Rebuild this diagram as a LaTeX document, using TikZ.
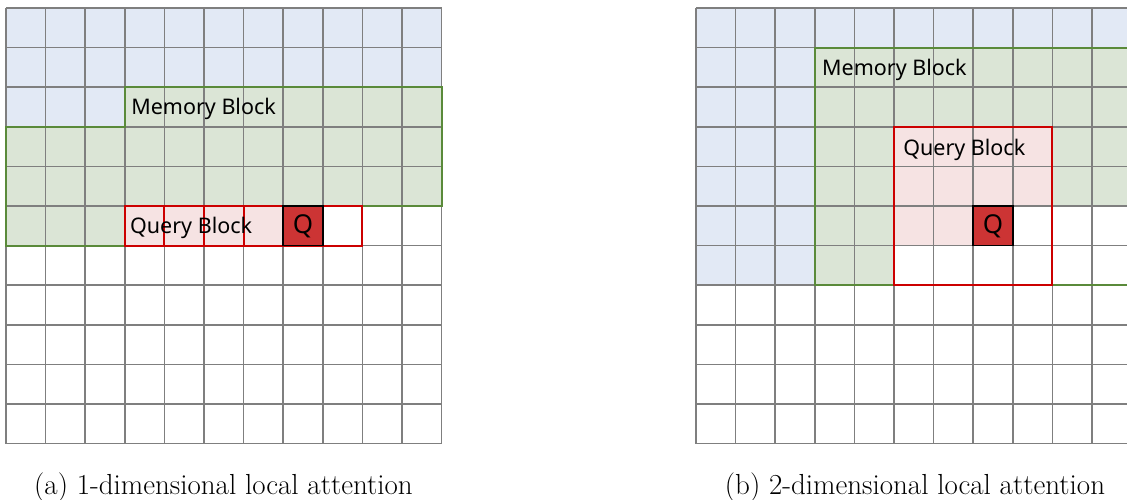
\documentclass[tikz,border=0pt]{standalone}
\usepackage{fontspec}
\newfontfamily\lblfont{Noto Sans}
\definecolor{bluefill}{HTML}{E2E9F5}
\definecolor{greenfill}{HTML}{DBE5D6}
\definecolor{pinkfill}{HTML}{F6E3E3}
\definecolor{qfill}{HTML}{CC3434}
\definecolor{gridgray}{HTML}{7F7F7F}
\definecolor{memgreen}{HTML}{5A8A3A}
\definecolor{qred}{HTML}{CC0000}
\tikzset{
  gridline/.style={draw=gridgray, line width=1.5pt},
  memline/.style={draw=memgreen, line width=2pt},
  qline/.style={draw=qred, line width=2pt},
  qcell/.style={draw=black, line width=1.5pt, fill=qfill, minimum size=39.6pt, inner sep=0pt, font=\lblfont\fontsize{26}{26}\selectfont},
  blocklabel/.style={anchor=base west, inner sep=0pt, font=\lblfont\fontsize{21.5}{21.5}\selectfont},
  caption/.style={anchor=base, inner sep=0pt, font=\fontsize{29}{33}\selectfont}
}
\begin{document}
\begin{tikzpicture}[x=1pt,y=-1pt]
\useasboundingbox (0,0) rectangle (1127,500);
\clip (0,0) rectangle (1127,500);
% ---- (a) 1-dimensional ----
\begin{scope}[shift={(6pt,-8pt)}, x=39.6pt, y=-39.6pt]
  \fill[bluefill] (0,0) rectangle (11,2);
  \fill[bluefill] (0,2) rectangle (3,3);
  \fill[greenfill] (3,2) rectangle (11,5);
  \fill[greenfill] (0,3) rectangle (3,6);
  \fill[pinkfill] (3,5) rectangle (7,6);
  \foreach \i in {0,...,11} {
    \draw[gridline] (\i,0) -- (\i,11);
    \draw[gridline] (0,\i) -- (11,\i);
  }
  \draw[memline] (0,3) -- (3,3) -- (3,2) -- (11,2) -- (11,5) -- (9,5) -- (9,6) -- (0,6) -- cycle;
  \foreach \i in {3,...,8} \draw[qline] (\i,5) rectangle ++(1,1);
  \node[qcell] (qa) at (7.5,5.5) {Q};
  \node[blocklabel] (mema) at (3.16,2.68) {Memory Block};
  \node[blocklabel] (querya) at (3.13,5.69) {Query Block};
\end{scope}
% ---- (b) 2-dimensional ----
\begin{scope}[shift={(696pt,-8pt)}, x=39.6pt, y=-39.6pt]
  \fill[bluefill] (0,0) rectangle (12,1);
  \fill[bluefill] (0,1) rectangle (3,7);
  \fill[greenfill] (3,1) rectangle (12,5);
  \fill[greenfill] (3,5) rectangle (5,7);
  \fill[pinkfill] (5,3) rectangle (9,5);
  \fill[pinkfill] (5,5) rectangle (7,6);
  \foreach \i in {0,...,11} {
    \draw[gridline] (\i,0) -- (\i,11);
    \draw[gridline] (0,\i) -- (11,\i);
  }
  \draw[memline] (3,1) rectangle (11,7);
  \draw[qline] (5,3) rectangle (9,7);
  \node[qcell] (qb) at (7.5,5.5) {Q};
  \node[blocklabel] (memb) at (3.18,1.71) {Memory Block};
  \node[blocklabel] (queryb) at (5.23,3.72) {Query Block};
\end{scope}
\node[caption] (capa) at (223.5,494) {(a) 1-dimensional local attention};
\node[caption] (capb) at (915,494) {(b) 2-dimensional local attention};
\end{tikzpicture}
\end{document}
